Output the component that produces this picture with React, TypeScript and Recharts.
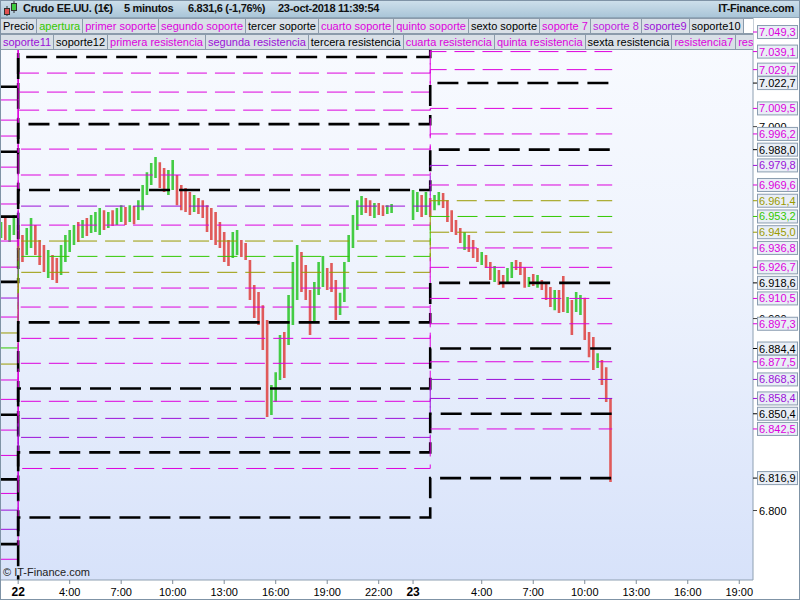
import React from "react";
import { ComposedChart, Line, XAxis, YAxis } from "recharts";

// 15-minute bars, hours counted from 0:00 on the 22nd
const day22Start = 0;
const day23Start = 24;
const barHours = 0.25;

const day22High = [
  6950.3, 6952.4, 6948.7, 6953.9, 6948.7, 6943.5, 6947.2, 6952.4, 6948.7, 6940.9,
  6938.3, 6935.7, 6933.1, 6931.6, 6938.3, 6943.5, 6946.1, 6948.7, 6950.3, 6951.3,
  6952.4, 6953.9, 6955.5, 6957.6, 6956.5, 6955.5, 6956.5, 6957.6, 6959.1, 6958.1,
  6959.1, 6958.6, 6961.7, 6969.6, 6976.3, 6981.0, 6984.2, 6981.5, 6978.4, 6977.4,
  6982.6, 6974.8, 6969.6, 6968.0, 6965.9, 6964.4, 6962.8, 6961.7, 6959.1, 6957.6,
  6955.5, 6950.3, 6945.1, 6940.9, 6945.1, 6946.1, 6940.9, 6939.4, 6930.5, 6917.5,
  6913.9, 6907.0, 6899.2, 6865.4, 6872.1, 6891.4, 6893.0, 6912.3, 6929.5, 6938.3,
  6934.7, 6927.9, 6914.9, 6919.1, 6929.5, 6932.6, 6926.3, 6929.0, 6920.1, 6913.4,
  6929.5, 6943.5, 6953.9, 6961.7, 6963.8, 6962.8, 6961.7, 6960.2, 6960.2, 6959.1,
  6959.1, 6959.7,
];
const day22Low = [
  6942.0, 6940.9, 6939.9, 6943.5, 6935.7, 6929.5, 6933.1, 6936.8, 6933.1, 6927.9,
  6924.3, 6921.2, 6920.1, 6918.6, 6922.7, 6929.5, 6934.7, 6938.3, 6939.9, 6942.0,
  6943.0, 6944.6, 6945.1, 6943.5, 6946.1, 6947.2, 6948.2, 6948.7, 6950.3, 6948.7,
  6950.3, 6949.2, 6951.3, 6956.5, 6964.4, 6969.6, 6973.2, 6968.0, 6965.9, 6964.4,
  6967.0, 6959.1, 6956.5, 6955.5, 6953.9, 6955.5, 6954.5, 6952.4, 6945.1, 6940.9,
  6938.3, 6936.8, 6929.5, 6927.4, 6931.6, 6933.1, 6932.1, 6930.5, 6909.7, 6900.3,
  6896.6, 6883.6, 6848.7, 6849.7, 6856.5, 6868.0, 6869.0, 6886.2, 6896.6, 6909.7,
  6913.9, 6909.7, 6891.4, 6898.2, 6912.3, 6916.5, 6914.9, 6913.9, 6899.2, 6901.8,
  6908.6, 6929.5, 6936.8, 6946.1, 6953.9, 6955.0, 6953.4, 6952.4, 6953.9, 6953.4,
  6954.5, 6955.0,
];
const day22Dir = "uduudduudd" + "dudduuuudu" + "duuududuud" + "uduuuuuddu" + "uddddudddd" +
  "dddduudddd" + "ddduuuduuu" + "ddduuudddu" + "uuuuuddudd" + "uu";

const day23High = [
  6967.0, 6965.9, 6964.4, 6965.9, 6962.8, 6964.4, 6965.9, 6965.4, 6961.7, 6956.5,
  6951.3, 6947.2, 6945.1, 6943.5, 6940.9, 6936.8, 6934.7, 6933.1, 6929.5, 6927.4,
  6925.3, 6922.7, 6926.3, 6929.5, 6930.5, 6929.5, 6926.8, 6921.7, 6923.2, 6922.7,
  6920.1, 6918.6, 6916.5, 6914.9, 6914.9, 6922.2, 6911.3, 6909.7, 6913.9, 6912.3,
  6910.8, 6893.0, 6890.4, 6882.0, 6878.4, 6874.7, 6858.6,
];
const day23Low = [
  6951.3, 6955.5, 6952.9, 6953.9, 6952.9, 6956.5, 6959.1, 6957.6, 6950.3, 6945.1,
  6943.5, 6939.4, 6935.7, 6934.7, 6931.6, 6929.5, 6927.9, 6926.3, 6920.1, 6919.1,
  6917.5, 6916.0, 6918.6, 6921.2, 6925.3, 6922.7, 6916.0, 6916.5, 6917.0, 6916.0,
  6914.9, 6909.7, 6906.0, 6904.4, 6902.9, 6903.4, 6902.9, 6891.4, 6903.4, 6901.8,
  6888.8, 6879.9, 6873.2, 6874.2, 6865.4, 6856.5, 6814.8,
];
const day23Dir = "uududuuddd" + "dduddduddu" + "dduudddudu" + "dddudduduu" + "ddduddd";

// pivot levels: previous session, the 22nd, the 23rd (top to bottom)
const levelPrev = [
  7020.8, 7013.9, 7003.4, 6995.1, 6986.9, 6978.9, 6969.0, 6959.7, 6953.1, 6940.4,
  6926.8, 6919.1, 6910.7, 6900.8, 6892.5, 6884.7, 6876.3, 6868.0, 6857.9, 6849.9,
  6841.9, 6828.7, 6816.2, 6808.9, 6800.2, 6790.2, 6782.5, 6774.6, 6748.7,
];
const level22 = [
  7070.1, 7062.8, 7052.4, 7044.1, 7036.3, 7027.9, 7018.0, 7008.6, 7001.3, 6988.3,
  6974.8, 6967.0, 6958.6, 6948.7, 6940.4, 6932.4, 6924.1, 6915.9, 6906.0, 6898.0,
  6889.7, 6876.7, 6863.6, 6856.9, 6848.0, 6838.1, 6830.3, 6821.9, 6796.4,
];
const level23 = [
  7091.0, 7084.0, 7073.5, 7065.0, 7057.5, 7049.3, 7039.1, 7029.7, 7022.7, 7009.5,
  6996.2, 6988.0, 6979.8, 6969.6, 6961.4, 6953.2, 6945.0, 6936.8, 6926.7, 6918.6,
  6910.5, 6897.3, 6884.4, 6877.5, 6868.3, 6858.4, 6850.4, 6842.5, 6816.9,
];
const M = "#dd00dd";
const P = "#9b10d8";
const K = "#000000";
const O = "#9a9a00";
const G = "#33c800";
const levelColor = [K, M, M, M, K, M, M, M, K, M, M, K, P, M, O, G, O, M, M, K, M, M, K, M, P, P, K, M, K];
const firstLabelled = 5;
const levelStep22 = 1;
const levelStep23 = 25;
const levelEnd = 35.6;

const timeTicks = [1, 4, 7, 10, 13, 16, 19, 22, 24, 28, 31, 34, 37, 40, 43];
const timeLabels = ["22", "4:00", "7:00", "10:00", "13:00", "16:00", "19:00", "22:00", "23", "4:00", "7:00", "10:00", "13:00", "16:00", "19:00"];
const priceTicks = [6800, 6900, 7000];

const legendRow1 = ["Precio", "apertura", "primer soporte", "segundo soporte", "tercer soporte", "cuarto soporte", "quinto soporte", "sexto soporte", "soporte 7", "soporte 8", "soporte9", "soporte10"];
const legendRow1Color = [K, G, M, M, K, M, M, K, M, "#c020e0", P, K];
const legendRow2 = ["soporte11", "soporte12", "primera resistencia", "segunda resistencia", "tercera resistencia", "cuarta resistencia", "quinta resistencia", "sexta resistencia", "resistencia7", "resistencia8"];
const legendRow2Color = [P, K, M, P, K, M, M, K, M, M];

const FONT = "'Liberation Sans', Arial, sans-serif";

function fmt(v: number, dec: number) {
  const s = v.toFixed(dec);
  const [int, frac] = s.split(".");
  const withSep = int.replace(/\B(?=(\d{3})+(?!\d))/g, ".");
  return frac ? `${withSep},${frac}` : withSep;
}

function candlePoints(dir: string) {
  const pts: { h: number; v: number | null }[] = [];
  const add = (hi: number[], lo: number[], dirs: string, start: number) => {
    hi.forEach((high, i) => {
      if (dirs[i] !== dir) return;
      const t = start + i * barHours;
      pts.push({ h: t, v: lo[i] }, { h: t, v: high }, { h: t, v: null });
    });
  };
  add(day22High, day22Low, day22Dir, day22Start);
  add(day23High, day23Low, day23Dir, day23Start);
  return pts;
}

const upBars = candlePoints("u");
const downBars = candlePoints("d");

const levelSeries = levelPrev.map((p, i) => [
  { h: 0, v: p },
  { h: levelStep22, v: level22[i] },
  { h: levelStep23, v: level23[i] },
  { h: levelEnd, v: level23[i] },
]);

const XTick = (props: any) => {
  const { x, payload, index } = props;
  const label = timeLabels[index] ?? String(payload.value);
  const bold = label === "22" || label === "23";
  return (
    <g>
      <line x1={x} x2={x} y1={580} y2={584} stroke="#7f8c99" />
      <text x={x} y={596} textAnchor="middle" fontSize={bold ? 12 : 11} fontWeight={bold ? "bold" : "normal"} fontFamily={FONT} fill="#000">
        {label}
      </text>
    </g>
  );
};

const YTick = (props: any) => {
  const { y, payload } = props;
  const v = payload.value as number;
  const i = level23.indexOf(v);
  if (i < 0) {
    return (
      <g>
        <line x1={753} x2={757} y1={y} y2={y} stroke="#444" />
        <text x={759} y={y + 4} fontSize={11} fontFamily={FONT} fill="#000">{fmt(v, 0)}</text>
      </g>
    );
  }
  const c = levelColor[i];
  return (
    <g>
      <line x1={753} x2={757} y1={y} y2={y} stroke={c} />
      <rect x={757.5} y={y - 6.5} width={40} height={13} fill="#e9eef6" stroke="#8b9db0" />
      <text x={759} y={y + 4} fontSize={11} fontFamily={FONT} fill={c}>{fmt(v, 1)}</text>
    </g>
  );
};

const legendBox = (text: string, color: string, key: number) => (
  <div
    key={key}
    style={{
      flex: "none",
      height: 14,
      lineHeight: "14px",
      padding: "0 2px",
      border: "1px solid #8b9bab",
      marginRight: -1,
      background: "#d9e0e7",
      color,
      fontSize: 11,
      whiteSpace: "nowrap",
    }}
  >
    {text}
  </div>
);

const headStyle: React.CSSProperties = {
  position: "absolute",
  top: 2,
  fontSize: 11,
  fontWeight: "bold",
  letterSpacing: -0.3,
  color: "#111",
  whiteSpace: "pre",
};

export default function App() {
  return (
    <div style={{ position: "absolute", left: 0, top: 0, width: 800, height: 600, background: "#fff", fontFamily: FONT, overflow: "hidden" }}>
      <div style={{ position: "absolute", left: 1, top: 18, width: 752, height: 562, background: "linear-gradient(to bottom, #f9fbff 0%, #eef3fd 45%, #d7e2fa 100%)" }} />
      <ComposedChart width={800} height={600} margin={{ top: 18, right: 0, bottom: 0, left: 1 }} style={{ position: "absolute", left: 0, top: 0 }}>
        <XAxis
          dataKey="h"
          type="number"
          domain={[0, 43.8]}
          allowDataOverflow
          ticks={timeTicks}
          interval={0}
          height={20}
          tickLine={false}
          axisLine={{ stroke: "#8ea0b2" }}
          tick={<XTick />}
        />
        <YAxis
          dataKey="v"
          type="number"
          orientation="right"
          width={47}
          domain={[6763.8, 7056.6]}
          allowDataOverflow
          ticks={[...priceTicks, ...level23.slice(firstLabelled)]}
          interval={0}
          tickLine={false}
          axisLine={{ stroke: "#8ea0b2" }}
          tick={<YTick />}
        />
        <Line data={upBars} dataKey="v" stroke="#44cc44" strokeWidth={2.6} dot={false} isAnimationActive={false} connectNulls={false} />
        <Line data={downBars} dataKey="v" stroke="#e05a5a" strokeWidth={2.6} dot={false} isAnimationActive={false} connectNulls={false} />
        {levelSeries.map((d, i) => {
          const heavy = levelColor[i] === K;
          return (
            <Line
              key={i}
              data={d}
              dataKey="v"
              type="stepAfter"
              stroke={levelColor[i]}
              strokeWidth={heavy ? 2.6 : 1}
              strokeDasharray={heavy ? "21 9" : "20 8"}
              dot={false}
              isAnimationActive={false}
            />
          );
        })}
      </ComposedChart>

      {/* header */}
      <div style={{ position: "absolute", left: 0, top: 0, width: 800, height: 18, background: "linear-gradient(to bottom, #cfe0ec, #aac6d8)", borderBottom: "1px solid #8fa6b8", boxSizing: "border-box" }}>
        <svg width={18} height={18} style={{ position: "absolute", left: 2, top: 0 }}>
          <line x1={5} x2={5} y1={6} y2={16} stroke="#333" />
          <rect x={2.5} y={8.5} width={5} height={6} fill="#e05050" stroke="#333" />
          <line x1={12} x2={12} y1={1} y2={13} stroke="#333" />
          <rect x={9.5} y={3.5} width={5} height={7} fill="#40cc40" stroke="#333" />
        </svg>
        <span style={{ ...headStyle, left: 23 }}>Crudo EE.UU. (1€)</span>
        <span style={{ ...headStyle, left: 124 }}>5 minutos</span>
        <span style={{ ...headStyle, left: 188 }}>6.831,6 (-1,76%)</span>
        <span style={{ ...headStyle, left: 278 }}>23-oct-2018 11:39:54</span>
        <span style={{ ...headStyle, right: 6 }}>IT-Finance.com</span>
      </div>

      {/* legend */}
      <div style={{ position: "absolute", left: 0, top: 18, width: 753, display: "flex", overflow: "hidden" }}>
        {legendRow1.map((t, i) => legendBox(t, legendRow1Color[i], i))}
        <div style={{ flex: "none", width: 9, height: 14, background: "#fff", border: "1px solid #8b9bab" }} />
      </div>
      <div style={{ position: "absolute", left: 0, top: 34, width: 753, display: "flex", overflow: "hidden" }}>
        {legendRow2.map((t, i) => legendBox(t, legendRow2Color[i], i))}
      </div>

      <div style={{ position: "absolute", left: 3, top: 566, fontSize: 11, color: "#222" }}>© IT-Finance.com</div>
      <div style={{ position: "absolute", left: 0, top: 0, width: 800, height: 600, border: "1px solid #7f93a6", boxSizing: "border-box", pointerEvents: "none" }} />
    </div>
  );
}
